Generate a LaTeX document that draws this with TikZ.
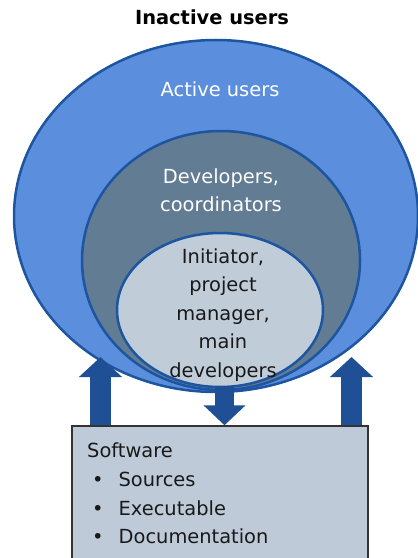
\documentclass[tikz,border=0pt]{standalone}
\usepackage{fontspec}
\setmainfont{DejaVu Sans}
\usetikzlibrary{arrows.meta}
\definecolor{outerfill}{HTML}{5B8FDE}
\definecolor{midfill}{HTML}{627C94}
\definecolor{innerfill}{HTML}{C0CCD8}
\definecolor{rimblue}{HTML}{1E55A0}
\definecolor{arrowblue}{HTML}{1F5096}
\definecolor{boxfill}{HTML}{BECAD8}
\tikzset{
  ring/.style={draw=rimblue, line width=2.5bp, ellipse, inner sep=0pt},
  lbl/.style={font=\fontsize{19.5}{28.5}\selectfont, align=center, inner sep=0pt},
  boxtxt/.style={font=\fontsize{19.5}{28.5}\selectfont, inner sep=0pt, anchor=base west, text=black!90},
  bigup/.style={draw=arrowblue, line width=21bp, line cap=butt, -{Triangle[width=42bp,length=20bp]}},
  bigdown/.style={draw=arrowblue, line width=19bp, line cap=butt, -{Triangle[width=41bp,length=20bp]}},
  swbox/.style={draw=black!80, line width=1.5bp, fill=boxfill, minimum width=296bp, minimum height=136bp, inner sep=0pt}
}
\begin{document}
\begin{tikzpicture}[x=1bp,y=-1bp]
\useasboundingbox (0,0) rectangle (417,558);
\node[font=\fontsize{19.5}{24}\selectfont\bfseries, inner sep=0pt] (title) at (212,17.5) {Inactive users};
% ellipses
\draw[draw=rimblue, line width=2.5bp, fill=outerfill] (216,216) ellipse [x radius=202, y radius=176];
\draw[draw=rimblue, line width=2.5bp, fill=midfill] (221,260.5) ellipse [x radius=139, y radius=129.5];
\draw[draw=rimblue, line width=2.5bp, fill=innerfill] (220,310) ellipse [x radius=103, y radius=77];
\node[lbl, text=white] (active) at (220,89) {Active users};
\node[lbl, text=white] (dev) at (221,190.5) {Developers,\\coordinators};
\node[lbl, text=black!90] (core) at (223,315) {Initiator,\\project\\manager,\\main\\developers};
% software box
\node[swbox] (sw) at (220,494) {};
\node[boxtxt] (t1) at (87,457) {Software};
\node[boxtxt] (t2) at (92,486) {•\hspace{15bp}Sources};
\node[boxtxt] (t3) at (92,515) {•\hspace{15bp}Executable};
\node[boxtxt] (t4) at (92,543.5) {•\hspace{15bp}Documentation};
% arrows
\coordinate (lt) at (100.5,357);
\coordinate (rt) at (351.5,357);
\coordinate (ms) at (224.5,386);
\draw[bigup] (sw.north -| lt) -- (lt);
\draw[bigup] (sw.north -| rt) -- (rt);
\draw[bigdown] (ms) -- (sw.north -| ms);
\end{tikzpicture}
\end{document}
